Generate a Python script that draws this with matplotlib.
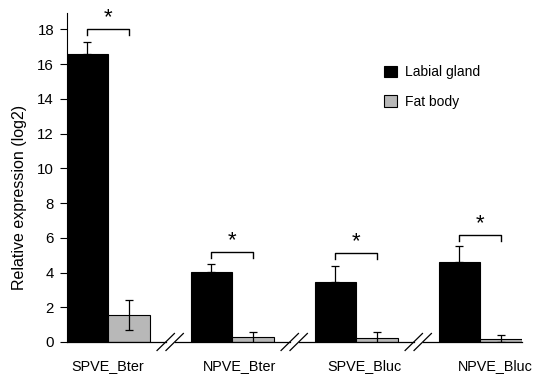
import matplotlib
matplotlib.use("Agg")
import matplotlib.pyplot as plt
import matplotlib.transforms as mtransforms
import numpy as np

plt.rcParams['font.family'] = ['Liberation Sans', 'DejaVu Sans']

categories = ["SPVE_Bter", "NPVE_Bter", "SPVE_Bluc", "NPVE_Bluc"]
labial = [16.6, 4.05, 3.47, 4.62]
labial_err = [0.65, 0.45, 0.9, 0.9]
fat = [1.55, 0.27, 0.22, 0.18]
fat_err = [0.87, 0.32, 0.37, 0.2]
bracket_y = [18.0, 5.2, 5.14, 6.16]
yticks = [0, 2, 4, 6, 8, 10, 12, 14, 16, 18]
label_pos = [0.0, 1.06, 2.07, 3.12]

fig = plt.figure(figsize=(5.33, 3.74), dpi=100)
ax = fig.add_axes([0.125, 0.0856, 0.854, 0.8794])

x = np.arange(len(categories))
w = 0.335
gray = "#b8b8b8"
ax.bar(x - w / 2, labial, w, color="black", edgecolor="black", linewidth=0.8,
       label="Labial gland", zorder=2)
ax.bar(x + w / 2, fat, w, color=gray, edgecolor="black", linewidth=0.8,
       label="Fat body", zorder=2)
ax.errorbar(x - w / 2, labial, yerr=[np.zeros(len(labial)), labial_err], fmt="none",
            ecolor="black", elinewidth=0.9, capsize=3.2, capthick=0.9, zorder=3)
ax.errorbar(x + w / 2, fat, yerr=fat_err, fmt="none",
            ecolor="black", elinewidth=0.9, capsize=3.2, capthick=0.9, zorder=3)

# significance brackets
for i, by in enumerate(bracket_y):
    x0, x1 = x[i] - w / 2, x[i] + w / 2
    ax.plot([x0, x0, x1, x1], [by - 0.35, by, by, by - 0.35], color="black",
            lw=1.0, clip_on=False, zorder=3)
    ax.text(x[i], by + 0.05, "*", ha="center", va="bottom", fontsize=16,
            clip_on=False)

ax.set_xlim(-w, len(categories) - 1 + w)
ax.set_ylim(0, 18.94)
ax.set_yticks(yticks)
ax.set_yticklabels([str(t) for t in yticks], fontsize=10.8)
ax.tick_params(axis="y", direction="out", length=5, width=0.8, pad=4)
ax.set_xticks([])
ax.set_ylabel("Relative expression (log2)", fontsize=11.5, labelpad=6)
ax.yaxis.set_label_coords(-0.087, 0.44)

for s in ["top", "right", "bottom"]:
    ax.spines[s].set_visible(False)
ax.spines["left"].set_linewidth(0.8)

# baseline with breaks
gap = 0.036
segs = [-w]
for b in [0.5, 1.5, 2.5]:
    segs += [b - gap, b + gap]
segs.append(len(categories) - 1 + w)
for i in range(0, len(segs), 2):
    ax.plot([segs[i], segs[i + 1]], [0, 0], color="black", lw=0.9,
            clip_on=False, zorder=4)
for b in [0.5, 1.5, 2.5]:
    for c in [b - gap, b + gap]:
        ax.plot([c - 0.07, c + 0.07], [-0.49, 0.49], color="black", lw=0.9,
                clip_on=False, zorder=4)

trans = mtransforms.blended_transform_factory(ax.transData, fig.transFigure)
for p, lab in zip(label_pos, categories):
    ax.text(p, 1 - 366 / 374, lab, transform=trans, ha="center", va="center",
            fontsize=10.4)

ax.legend(loc="upper left", bbox_to_anchor=(0.67, 0.88), frameon=False,
          fontsize=10, handlelength=0.9, handleheight=0.9, labelspacing=1.15,
          handletextpad=0.6)

fig.savefig("out.png", dpi=100)
